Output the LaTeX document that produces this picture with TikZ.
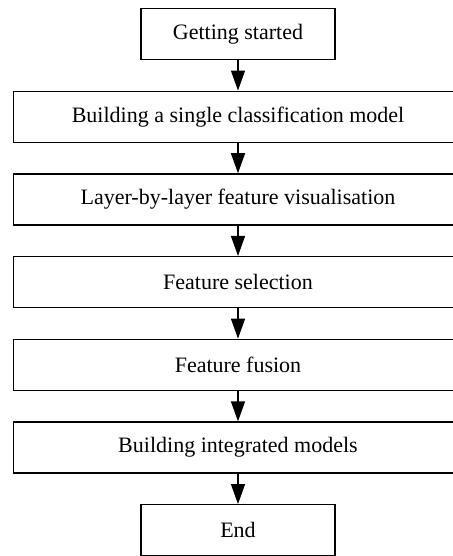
\documentclass[tikz,border=0pt]{standalone}
\usepackage{fontspec}
\setmainfont{Liberation Serif}
\usetikzlibrary{arrows.meta, positioning}
\newcommand{\Height}{51pt}
\newcommand{\Width}{449pt}
\newcommand{\ShortWidth}{194pt}
\tikzset{WideBox/.style={
    inner sep=0pt,
    minimum width=\Width,
    minimum height=\Height,
    draw=black,
    line width=1.3pt,
    align=center,
    font=\fontsize{22}{26}\selectfont
    }
}
\tikzset{SmallBox/.style={
    inner sep=0pt,
    minimum width=\ShortWidth,
    minimum height=\Height,
    draw=black,
    line width=1.3pt,
    align=center,
    font=\fontsize{22}{26}\selectfont
    }
}
\tikzset{Flow/.style={
    -{Triangle[length=20pt, width=14pt]},
    line width=1.3pt
    }
}
\begin{document}
\begin{tikzpicture}[x=1pt, y=1pt, node distance=82.7pt]
    \useasboundingbox (0,0) rectangle (452,-556);
    
    \node (start)[SmallBox] at (238,-34) {Getting started};
    
    \node (single)[WideBox, below of=start] {Building a single classification model};
    
    \node (layer)[WideBox, below of=single] {Layer-by-layer feature visualisation};
    
    \node (select)[WideBox, below of=layer] {Feature selection};
    
    \node (fusion)[WideBox, below of=select] {Feature fusion};
    
    \node (integ)[WideBox, below of=fusion] {Building integrated models};
    
    \node (end)[SmallBox, below of=integ] {End};
    
        \draw [Flow] (start.south) -- (single.north);
        \draw [Flow] (single.south) -- (layer.north);
        \draw [Flow] (layer.south) -- (select.north);
        \draw [Flow] (select.south) -- (fusion.north);
        \draw [Flow] (fusion.south) -- (integ.north);
        \draw [Flow] (integ.south) -- (end.north);
    
\end{tikzpicture}
\end{document}
